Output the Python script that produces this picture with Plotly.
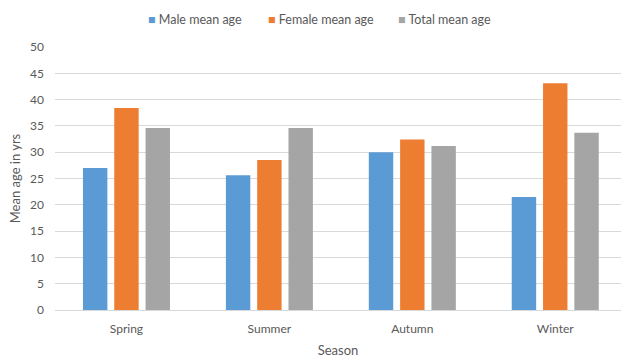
import plotly.graph_objects as go

# Mean age by season, split by sex
seasons = ["Spring", "Summer", "Autumn", "Winter"]
male_mean_age = [27.0, 25.6, 30.0, 21.5]
female_mean_age = [38.4, 28.5, 32.4, 43.1]
total_mean_age = [34.6, 34.6, 31.2, 33.7]

series = [
    ("Male mean age", male_mean_age, "#5B9BD5"),
    ("Female mean age", female_mean_age, "#ED7D31"),
    ("Total mean age", total_mean_age, "#A5A5A5"),
]

text_color = "#595959"
font_family = "Lato, sans-serif"

fig = go.Figure()
for name, values, color in series:
    fig.add_trace(go.Bar(x=seasons, y=values, name=name, marker_color=color,
                         marker_line_width=0, showlegend=False))

# Compact legend row above the plot: small coloured square followed by the name
legend_x = [0.161, 0.373, 0.602]
for (name, _, color), lx in zip(series, legend_x):
    fig.add_annotation(
        xref="paper", yref="paper", x=lx, y=1.106, xanchor="left", yanchor="middle",
        showarrow=False,
        text=f"<span style='color:{color}'>■</span> {name}",
        font=dict(family=font_family, size=12.5, color=text_color),
    )

fig.update_layout(
    width=621, height=362,
    margin=dict(l=55, r=0, t=47, b=52, autoexpand=False),
    paper_bgcolor="white", plot_bgcolor="white",
    font=dict(family=font_family, size=12, color=text_color),
    barmode="group", bargap=0.343, bargroupgap=0.22,
    showlegend=False,
)
fig.update_xaxes(
    title=dict(text="Season", font=dict(size=13, color=text_color), standoff=10),
    range=[-0.5, 3.46], automargin=False,
    showline=True, linecolor="#D9D9D9", linewidth=1, ticks="",
    ticklabelstandoff=8,
    tickfont=dict(size=12, color=text_color),
)
fig.update_yaxes(
    title=dict(text="Mean age in yrs", font=dict(size=13, color=text_color), standoff=6),
    range=[0, 50], dtick=5, automargin=False,
    showgrid=True, gridcolor="#D9D9D9", gridwidth=1,
    zeroline=False, ticks="", ticklabelstandoff=10,
    tickfont=dict(size=12, color=text_color),
)

fig.write_html("out.html")
